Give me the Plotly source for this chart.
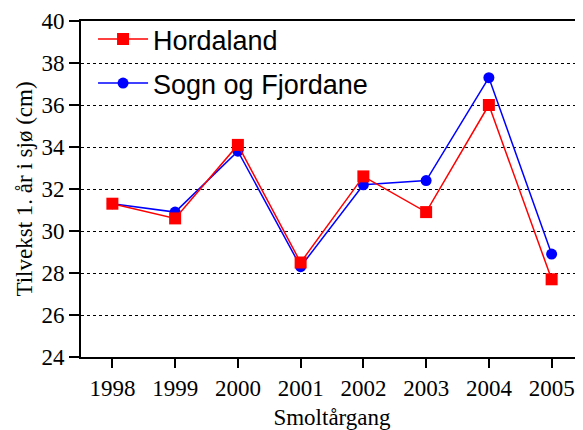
import plotly.graph_objects as go

years = [1998, 1999, 2000, 2001, 2002, 2003, 2004, 2005]
hordaland = [31.3, 30.6, 34.1, 28.5, 32.6, 30.9, 36.0, 27.7]
sogn = [31.3, 30.9, 33.8, 28.3, 32.2, 32.4, 37.3, 28.9]
y_ticks = [24, 26, 28, 30, 32, 34, 36, 38, 40]

fig = go.Figure()
fig.add_trace(go.Scatter(
    x=years, y=sogn, name="Sogn og Fjordane", mode="lines+markers",
    line=dict(color="#0000ff", width=1.5),
    marker=dict(symbol="circle", size=11, color="#0000ff"),
    legendgroup="b", legendrank=2,
))
fig.add_trace(go.Scatter(
    x=years, y=hordaland, name="Hordaland", mode="lines+markers",
    line=dict(color="#ff0000", width=1.5),
    marker=dict(symbol="square", size=12, color="#ff0000"),
    legendgroup="a", legendrank=1,
))

# page body has an 8px default margin, so the figure is shrunk to fit the window
fig.update_layout(
    width=575, height=422,
    margin=dict(l=73, r=0, t=13, b=73),
    plot_bgcolor="white", paper_bgcolor="white",
    font=dict(family="Liberation Serif", size=23, color="black"),
    legend=dict(
        x=0.024, y=1.018, xanchor="left", yanchor="top",
        bgcolor="rgba(0,0,0,0)",
        font=dict(family="Liberation Sans", size=27, color="black"),
        tracegroupgap=6, traceorder="grouped", itemwidth=50,
    ),
    showlegend=True,
)
fig.update_xaxes(
    range=[1997.5, 2005.5], tickvals=years, ticktext=[str(y) for y in years],
    showline=True, linecolor="black", linewidth=2, mirror=True,
    ticks="outside", ticklen=9, tickcolor="black", tickwidth=1.5,
    showgrid=False, zeroline=False,
    title=dict(text="Smoltårgang", font=dict(size=23), standoff=9),
)
fig.update_yaxes(
    range=[24, 40], tickvals=y_ticks,
    showline=True, linecolor="black", linewidth=2,
    ticks="outside", ticklen=10, tickcolor="black", tickwidth=1.5,
    showgrid=True, gridcolor="black", gridwidth=1, griddash="dot",
    zeroline=False,
    title=dict(text="Tilvekst 1. år i sjø (cm)", font=dict(size=23), standoff=2),
)

fig.write_html("out.html")
